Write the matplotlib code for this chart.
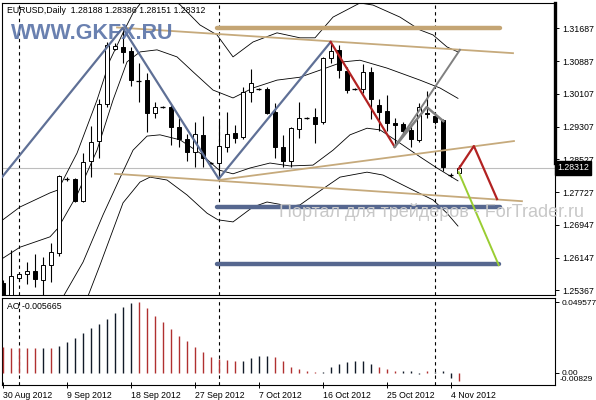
import matplotlib
matplotlib.use("Agg")
import matplotlib.pyplot as plt
import matplotlib.transforms as mtransforms

plt.rcParams['font.family'] = ['Liberation Sans', 'DejaVu Sans']

# ---- daily EURUSD bars, 30 Aug 2012 .. 5 Nov 2012 (Sunday bars included) ----
opens  = [1.2554, 1.2522, 1.2566, 1.2575, 1.2583, 1.2561, 1.2597, 1.2626, 1.2805, 1.2805,
          1.2751, 1.2848, 1.2896, 1.2985, 1.3118, 1.3123, 1.3113, 1.3043, 1.3043, 1.2964,
          1.2978, 1.2978, 1.2930, 1.2901, 1.2870, 1.2911, 1.2843, 1.2843, 1.2882, 1.2915,
          1.2906, 1.3014, 1.3022, 1.3022, 1.2966, 1.2882, 1.2848, 1.2925, 1.2952, 1.2954,
          1.2942, 1.3096, 1.3116, 1.3065, 1.3022, 1.3022, 1.3063, 1.2983, 1.2969, 1.2940,
          1.2937, 1.2923, 1.2899, 1.2964, 1.2956, 1.2947, 1.2814, 1.28188]
highs  = [1.2561, 1.2633, 1.2580, 1.2604, 1.2624, 1.2616, 1.2650, 1.2814, 1.2809, 1.2807,
          1.2867, 1.2932, 1.2997, 1.3135, 1.3133, 1.3166, 1.3123, 1.3084, 1.3060, 1.2990,
          1.2981, 1.2983, 1.2952, 1.2913, 1.2942, 1.2956, 1.2846, 1.2944, 1.2966, 1.2935,
          1.3026, 1.3070, 1.3024, 1.3026, 1.2988, 1.2911, 1.2930, 1.2990, 1.2954, 1.2976,
          1.3099, 1.3135, 1.3128, 1.3075, 1.3024, 1.3082, 1.3075, 1.2997, 1.3007, 1.2952,
          1.2942, 1.2935, 1.2988, 1.3017, 1.2964, 1.2949, 1.2819, 1.28386]
lows   = [1.2513, 1.2517, 1.2561, 1.2551, 1.2544, 1.2522, 1.2556, 1.2619, 1.2800, 1.2749,
          1.2749, 1.2809, 1.2855, 1.2978, 1.3116, 1.3084, 1.3029, 1.2990, 1.2918, 1.2952,
          1.2976, 1.2887, 1.2882, 1.2848, 1.2833, 1.2833, 1.2841, 1.2805, 1.2870, 1.2891,
          1.2901, 1.2990, 1.3019, 1.2961, 1.2855, 1.2833, 1.2833, 1.2903, 1.2949, 1.2891,
          1.2937, 1.3084, 1.3048, 1.3012, 1.3019, 1.3012, 1.2949, 1.2920, 1.2920, 1.2882,
          1.2915, 1.2882, 1.2894, 1.2952, 1.2937, 1.2824, 1.2809, 1.28151]
closes = [1.2525, 1.2570, 1.2575, 1.2583, 1.2563, 1.2597, 1.2628, 1.2812, 1.2804, 1.2751,
          1.2845, 1.2894, 1.2985, 1.3128, 1.3125, 1.3111, 1.3043, 1.3041, 1.2964, 1.2978,
          1.2977, 1.2930, 1.2901, 1.2870, 1.2913, 1.2855, 1.2842, 1.2884, 1.2913, 1.2903,
          1.3014, 1.3036, 1.3021, 1.2964, 1.2882, 1.2848, 1.2928, 1.2952, 1.2951, 1.2937,
          1.3096, 1.3113, 1.3067, 1.3019, 1.3021, 1.3063, 1.2997, 1.2966, 1.2940, 1.2935,
          1.2920, 1.2901, 1.2978, 1.2961, 1.2942, 1.2833, 1.2813, 1.28312]

date_ticks = [0, 8, 16, 24, 32, 40, 48, 56]
date_labels = ['30 Aug 2012', '9 Sep 2012', '18 Sep 2012', '27 Sep 2012',
               '7 Oct 2012', '16 Oct 2012', '25 Oct 2012', '4 Nov 2012']
month_starts = [2, 27, 54]

price_ticks = [1.31687, 1.30887, 1.30107, 1.29307, 1.28527, 1.27727, 1.26947, 1.26147, 1.25367]
last_price = 1.28312

# Awesome Oscillator
ao = [0.0179, 0.0172, 0.0172, 0.0172, 0.0172, 0.0172, 0.0172, 0.0188, 0.0218, 0.0242,
      0.0282, 0.0317, 0.0343, 0.0378, 0.0422, 0.0465, 0.0490, 0.049577, 0.0453, 0.0401,
      0.0355, 0.0306, 0.0260, 0.0225, 0.0183, 0.0148, 0.0113, 0.0095, 0.0089, 0.0082,
      0.0082, 0.0106, 0.0120, 0.0118, 0.0113, 0.0082, 0.0042, 0.0026, 0.0010, 0.0004,
      0.0005, 0.0042, 0.0061, 0.0077, 0.0084, 0.0085, 0.0061, 0.0042, 0.0026, 0.0012,
      0.0010, 0.0012, -0.0012, 0.0010, 0.0008, 0.0010, -0.0035, -0.005665]
ao_up = "ddddd" "udu" "uuuuuuuuu" "ddddddddddd" "dd" "uuuu" "dddddd" "uuuuuuu" "ddd" "uuu" "duuu" "dd"

# band envelopes: (bar position, price)
outer_upper = [(-0.34, 1.2701), (2.16, 1.2737), (5.91, 1.2771), (6.91, 1.2778), (9.29, 1.2867),
               (11.79, 1.2995), (13.41, 1.3091), (15.04, 1.3157), (16.29, 1.3205), (17.54, 1.3236),
               (19.66, 1.3256), (22.16, 1.3225), (24.66, 1.3176), (26.79, 1.3152), (28.79, 1.3099),
               (31.29, 1.3135), (34.29, 1.3157), (37.16, 1.3145), (39.04, 1.3145), (41.29, 1.3195),
               (44.66, 1.3229), (46.29, 1.3224), (49.66, 1.3195), (52.16, 1.3164), (53.79, 1.3152),
               (55.54, 1.3123), (56.91, 1.3111)]
inner_upper = [(-0.34, 1.2609), (2.16, 1.2640), (5.91, 1.2665), (6.91, 1.2686), (9.29, 1.2766),
               (11.79, 1.2874), (13.79, 1.2995), (15.54, 1.3087), (17.16, 1.3111), (19.29, 1.3116),
               (21.79, 1.3099), (23.79, 1.3063), (26.29, 1.3019), (28.79, 1.3000), (31.29, 1.3024),
               (34.29, 1.3043), (37.16, 1.3050), (39.66, 1.3067), (42.54, 1.3087), (44.66, 1.3091),
               (48.04, 1.3072), (52.16, 1.3043), (54.66, 1.3024), (56.91, 1.2999)]
inner_lower = [(4.66, 1.2464), (7.54, 1.2520), (10.04, 1.2604), (12.54, 1.2718), (14.66, 1.2807),
               (16.29, 1.2874), (18.04, 1.2908), (19.66, 1.2911), (22.16, 1.2899), (24.66, 1.2867),
               (27.04, 1.2826), (28.79, 1.2817), (30.91, 1.2831), (33.41, 1.2843), (35.91, 1.2836),
               (38.79, 1.2838), (41.29, 1.2874), (43.41, 1.2911), (45.54, 1.2927), (47.16, 1.2923),
               (49.66, 1.2891), (52.16, 1.2858), (54.29, 1.2831), (56.91, 1.2800)]
outer_lower = [(8.41, 1.2464), (10.66, 1.2522), (12.16, 1.2597), (15.04, 1.2747), (17.16, 1.2797),
               (18.41, 1.2809), (20.54, 1.2802), (23.04, 1.2766), (25.54, 1.2722), (26.91, 1.2706),
               (28.79, 1.2701), (31.29, 1.2737), (33.04, 1.2749), (35.91, 1.2739), (37.16, 1.2742),
               (39.29, 1.2771), (42.16, 1.2809), (45.54, 1.2821), (47.54, 1.2814), (50.54, 1.2785),
               (53.79, 1.2754), (55.54, 1.2722), (56.91, 1.2691)]

# drawn analysis objects: (bar position, price)
zigzag_blue = [(-0.09, 1.2809), (15, 1.3169), (27, 1.2805), (41, 1.3135)]
zigzag_red = [(41, 1.3135), (49, 1.2882)]
zigzag_grey = [(49, 1.2882), (53, 1.2978), (55.08, 1.2944)]
channel_grey = [(49, 1.2882), (57.16, 1.3116)]
forecast_red = [(57, 1.2829), (58.9, 1.2884), (61.8, 1.2756)]
forecast_green = [(57, 1.2821), (62.0, 1.2597)]
tan_level = [(26.79, 1.3169), (62.16, 1.3169)]
tan_upper = [(14.29, 1.3170), (63.79, 1.3108)]
tan_rising = [(27, 1.2802), (63.91, 1.2896)]
tan_lower = [(14.04, 1.2817), (64.91, 1.2751)]
blue_level_1 = [(26.8, 1.2737), (62.2, 1.2737)]
blue_level_2 = [(26.8, 1.2599), (62.0, 1.2599)]

W, H = 596, 400
fig = plt.figure(figsize=(W / 100, H / 100), dpi=100)
ax = fig.add_axes([2 / W, 105 / H, 553 / W, 292 / H])
ax2 = fig.add_axes([2 / W, 15 / H, 553 / W, 87 / H])

n = len(opens)
xs = list(range(n))

def line(pts, **kw):
    ax.plot([p[0] for p in pts], [p[1] for p in pts], **kw)

# bands
for band in (outer_upper, inner_upper, inner_lower, outer_lower):
    line(band, color='black', lw=0.6, zorder=2)

# month separators
for m in month_starts:
    ax.axvline(m, color='black', lw=0.8, ls=(0, (3, 3)), zorder=1)
    ax2.axvline(m, color='black', lw=0.8, ls=(0, (3, 3)), zorder=1)

ax.axhline(last_price, color='#bdbdbd', lw=0.8, zorder=1)

# candles
ax.vlines(xs, lows, highs, color='black', lw=0.8, zorder=3)
for i in xs:
    o, c = opens[i], closes[i]
    if abs(c - o) < 0.00025:
        ax.hlines((o + c) / 2, i - 0.3, i + 0.3, color='black', lw=0.9, zorder=4)
    else:
        ax.bar(i, abs(c - o), bottom=min(o, c), width=0.5,
               color='white' if c > o else 'black', edgecolor='black', lw=0.7, zorder=4)

# analysis objects
line(tan_level, color='#c4a574', lw=3.2, solid_capstyle='round', zorder=5)
line(tan_upper, color='#c6aa7c', lw=1.3, zorder=5)
line(tan_rising, color='#c6aa7c', lw=1.3, zorder=5)
line(tan_lower, color='#c6aa7c', lw=1.3, zorder=5)
line(blue_level_1, color='#56678f', lw=3.2, solid_capstyle='round', zorder=5)
line(blue_level_2, color='#56678f', lw=3.2, solid_capstyle='round', zorder=5)
line(zigzag_blue, color='#5f7096', lw=1.6, zorder=5)
line(zigzag_red, color='#b22222', lw=1.6, zorder=5)
line(zigzag_grey, color='#808080', lw=1.8, zorder=5)
line(channel_grey, color='#808080', lw=1.4, zorder=5)
line(forecast_red, color='#b22222', lw=1.6, zorder=5)
line(forecast_green, color='#9acd32', lw=1.4, zorder=5)

ax.set_xlim(-0.09, 69.04)
ax.set_ylim(1.25247, 1.32290)
ax.set_xticks([])
ax.yaxis.tick_right()
ax.set_yticks(price_ticks)
ax.set_yticklabels(['%.5f' % v for v in price_ticks])
ax.tick_params(axis='y', direction='out', length=3, width=0.7, pad=2, labelsize=6.3)
for s in ax.spines.values():
    s.set_linewidth(0.8)
ax.plot([1, 1], [0.452, 1], transform=ax.transAxes, color='black', lw=2.4, clip_on=False, zorder=6)

trans = mtransforms.blended_transform_factory(ax.transAxes, ax.transData)
ax.text(1.004, last_price, '%.5f' % last_price, transform=trans, fontsize=6.3, color='white',
        va='center', ha='left', bbox=dict(boxstyle='square,pad=0.25', fc='black', ec='black'))

ax.text(0.009, 0.976, 'EURUSD,Daily  1.28188 1.28386 1.28151 1.28312', transform=ax.transAxes,
        fontsize=6.3, va='center', ha='left', zorder=7)
ax.text(0.164, 0.895, 'WWW.GKFX.RU', transform=ax.transAxes, fontsize=15.5, fontweight='bold',
        color='#5a73a8', alpha=0.9, va='center', ha='center', zorder=7)
ax.text(0.501, 0.284, 'Портал для трейдеров - ForTrader.ru', transform=ax.transAxes,
        fontsize=13, color='#c8c8c8', va='center', ha='left', clip_on=False, zorder=7)

# AO panel
ao_colors = ['#111a28' if u == 'u' else '#b03030' for u in ao_up]
ax2.vlines(xs, 0, ao, colors=ao_colors, lw=1.0, zorder=3)
ax2.set_xlim(-0.09, 69.04)
ax2.set_ylim(-0.00866, 0.05259)
ax2.yaxis.tick_right()
ax2.set_yticks([0.049577, 0.0])
ax2.set_yticklabels(['0.049577', '0.00'])
ax2.tick_params(axis='y', direction='out', length=3, width=0.7, pad=1.5, labelsize=6.0)
ax2.text(1.008, 0.06, '-0.00829', transform=ax2.transAxes, fontsize=6.0, va='center', ha='left')
ax2.set_xticks(date_ticks)
ax2.set_xticklabels(date_labels)
ax2.tick_params(axis='x', direction='inout', length=4, width=0.7, pad=2, labelsize=6.3)
for lbl in ax2.get_xticklabels():
    lbl.set_ha('left')
for s in ax2.spines.values():
    s.set_linewidth(0.8)
ax2.text(0.009, 0.897, 'AO -0.005665', transform=ax2.transAxes, fontsize=6.3, va='center', ha='left')

fig.savefig('out.png', dpi=100)
